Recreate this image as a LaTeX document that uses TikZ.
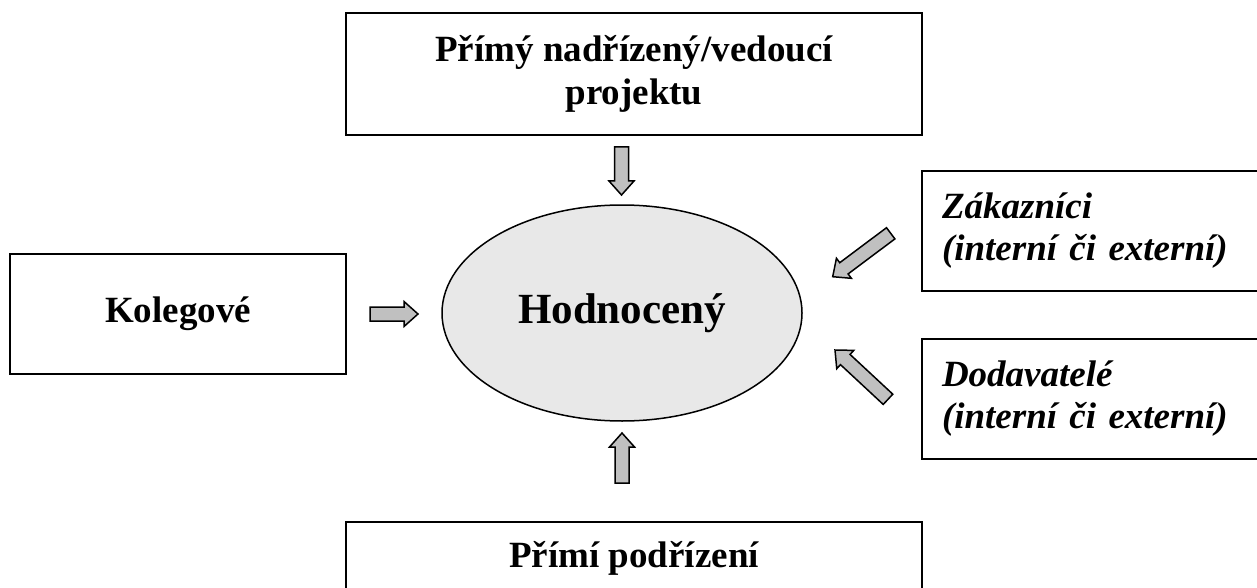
\documentclass[tikz,border=0pt]{standalone}
\usepackage{fontspec}
\setmainfont{Liberation Serif}
\usetikzlibrary{calc,shapes.geometric}
\definecolor{arrowgray}{HTML}{C0C0C0}
\definecolor{ellgray}{HTML}{E8E8E8}
\tikzset{
  boxnode/.style={draw=black, line width=2pt, rectangle, inner sep=0pt},
  txt/.style={font=\bfseries\fontsize{37}{43}\selectfont},
  itxt/.style={font=\bfseries\itshape\fontsize{37}{42}\selectfont},
  barrowstyle/.style={draw=black, line width=1.5pt, fill=arrowgray, line join=miter},
}
\newcommand\blockarrow[2]{%
  \coordinate (hb) at ($(#2)!14pt!(#1)$);
  \draw[barrowstyle] ($(#1)!7pt!90:(#2)$) -- ($(hb)!7pt!90:(#2)$) -- ($(hb)!12.5pt!90:(#2)$) -- (#2)
     -- ($(hb)!12.5pt!-90:(#2)$) -- ($(hb)!7pt!-90:(#2)$) -- ($(#1)!7pt!-90:(#2)$) -- cycle;}
\begin{document}
\begin{tikzpicture}[x=1pt,y=-1pt]
\useasboundingbox (0,0) rectangle (1257,588);
\clip (0,0) rectangle (1257,588);
% boxes
\node[boxnode, minimum width=576, minimum height=122, align=center, txt] (sup) at (634,74)
  {Přímý nadřízený/vedoucí\\projektu};
\node[boxnode, minimum width=336, minimum height=120, txt] (kol) at (178,314) {Kolegové};
\node[boxnode, minimum height=120, text width=320, inner xsep=20, align=left, itxt] (zak) at (1102,231)
  {Zákazníci\\(interní či externí)};
\node[boxnode, minimum height=120, text width=320, inner xsep=20, align=left, itxt] (dod) at (1102,399)
  {Dodavatelé\\(interní či externí)};
\node[boxnode, minimum width=576, minimum height=73, txt] (pod) at (634,558.5) {Přímí podřízení};
% ellipse
\node[draw=black, line width=1.5pt, fill=ellgray, ellipse, minimum width=360, minimum height=216,
  inner sep=0pt, font=\bfseries\fontsize{43}{50}\selectfont] (hod) at (622,313) {Hodnocený};
% arrows
\coordinate (a1t) at (621.5,147); \coordinate (a1h) at (621.5,195);
\coordinate (a2t) at (370,314);   \coordinate (a2h) at (418,314);
\coordinate (a3t) at (622,483);   \coordinate (a3h) at (622,433);
\coordinate (a4t) at (890.7,233.3); \coordinate (a4h) at (832.7,276.7);
\coordinate (a5t) at (888,399.3); \coordinate (a5h) at (835,350);
\blockarrow{a1t}{a1h}
\blockarrow{a2t}{a2h}
\blockarrow{a3t}{a3h}
\blockarrow{a4t}{a4h}
\blockarrow{a5t}{a5h}
\end{tikzpicture}
\end{document}
